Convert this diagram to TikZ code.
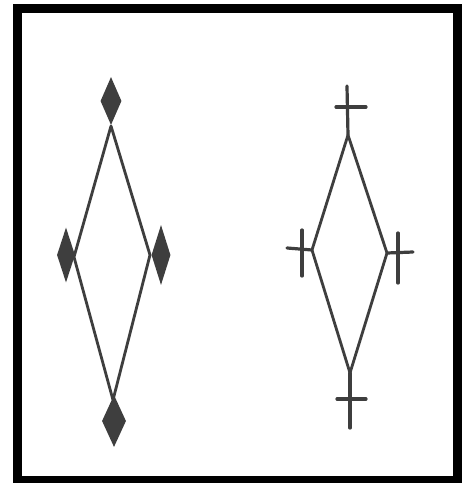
\documentclass[tikz,border=0pt]{standalone}
\usetikzlibrary{shapes.geometric}
\definecolor{ink}{RGB}{62,62,62}
\tikzset{
  frame/.style={draw=black,line width=9pt},
  edge/.style={draw=ink,line width=2.8pt,line cap=round,line join=round},
  bar/.style={draw=ink,line width=3.2pt,line cap=round},
  kite/.style={diamond,fill=ink,draw=none,inner sep=0pt,minimum width=#1},
  kite/.default=21pt
}
\begin{document}
\begin{tikzpicture}[x=1pt,y=-1pt]
\useasboundingbox (0,0) rectangle (470,483);
\fill[white] (0,0) rectangle (470,483);
\draw[frame] (17.5,8.5) rectangle (457.5,480.5);

% left figure: rhombus with diamond markers
\coordinate (lt) at (111,126);
\coordinate (ll) at (74,257);
\coordinate (lr) at (150,255);
\coordinate (lb) at (113,400);
\draw[edge] (lt) -- (ll) -- (lb) -- (lr) -- cycle;
\node[kite=21pt,minimum height=48pt] (mt) at (111,101) {};
\node[kite=18pt,minimum height=55pt] (ml) at (66,255) {};
\node[kite=19pt,minimum height=60pt] (mr) at (161,255) {};
\node[kite=24pt,minimum height=52pt] (mb) at (114,421) {};

% right figure: rhombus with crosses
\coordinate (rt) at (348,135);
\coordinate (rl) at (312,250);
\coordinate (rr) at (387,253);
\coordinate (rb) at (350,373);
\draw[edge] (rt) -- (rl) -- (rb) -- (rr) -- cycle;
% top cross
\coordinate (ta) at (347,86);
\coordinate (th1) at (336,107);
\coordinate (th2) at (366,107);
\draw[bar] (ta) -- (rt);
\draw[bar] (th1) -- (th2);
% left cross
\coordinate (lh) at (287,248);
\coordinate (lv1) at (302,230);
\coordinate (lv2) at (302,276);
\draw[bar] (lh) -- (rl);
\draw[bar] (lv1) -- (lv2);
% right cross
\coordinate (rh) at (413,252);
\coordinate (rv1) at (398,233);
\coordinate (rv2) at (398,283);
\draw[bar] (rr) -- (rh);
\draw[bar] (rv1) -- (rv2);
% bottom cross
\coordinate (ba) at (350,428);
\coordinate (bh1) at (337,399);
\coordinate (bh2) at (366,399);
\draw[bar] (rb) -- (ba);
\draw[bar] (bh1) -- (bh2);
\end{tikzpicture}
\end{document}
